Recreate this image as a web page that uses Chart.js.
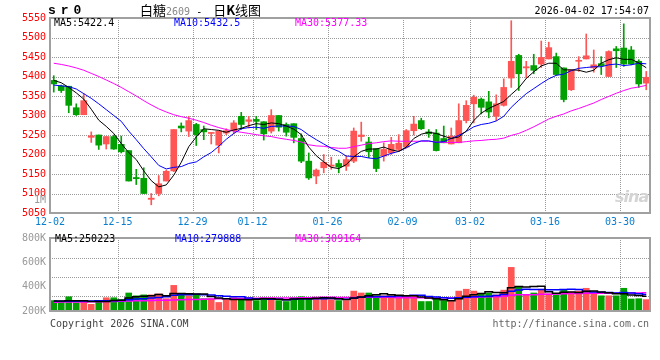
<!DOCTYPE html>
<html>
<head>
<meta charset="utf-8">
<title>白糖2609 - 日K线图</title>
<script src="https://cdn.jsdelivr.net/npm/chart.js@4/dist/chart.umd.min.js"></script>
<style>
  body { margin: 0; background: #fff; }
  #wrap { position: relative; width: 660px; height: 360px; overflow: hidden;
          font-family: "DejaVu Sans Mono", monospace; font-size: 10px; color: #000; }
  #wrap canvas { position: absolute; left: 0; }
  .txt { position: absolute; white-space: pre; line-height: 12px; }
</style>
</head>
<body>
<div id="wrap">
  <canvas id="kline" width="660" height="228" style="top:0"></canvas>
  <canvas id="vol" width="660" height="132" style="top:228px"></canvas>

  <div class="txt" style="left:48px;top:3px;font:bold 13px 'Liberation Mono',monospace;letter-spacing:5px">sr0</div>
  <div class="txt" style="left:140px;top:2px;font-size:13px;line-height:15px;font-family:'Noto Sans CJK SC',sans-serif">白糖<span style="font:10px 'DejaVu Sans Mono';color:#888">2609</span><span style="font:10px 'DejaVu Sans Mono'"> - </span><span style="margin-left:5px">日<b>K</b>线图</span></div>
  <div class="txt" style="right:11px;top:5px">2026-04-02 17:54:07</div>

  <div class="txt" style="left:54px;top:17px">MA5:5422.4</div>
  <div class="txt" style="left:174px;top:17px;color:#0000ff">MA10:5432.5</div>
  <div class="txt" style="left:295px;top:17px;color:#ff00ff">MA30:5377.33</div>
  <div class="txt" style="left:34px;top:194px;color:#999">1M</div>

  <div class="txt" style="left:55px;top:233px">MA5:250223</div>
  <div class="txt" style="left:175px;top:233px;color:#0000ff">MA10:279888</div>
  <div class="txt" style="left:295px;top:233px;color:#ff00ff">MA30:309164</div>

  <div class="txt" style="left:615px;top:187px;font:italic bold 16px 'DejaVu Sans',sans-serif;color:#d4d4d4;letter-spacing:-1px">sina</div>

  <div class="txt" style="left:50px;top:318px;color:#444">Copyright 2026 SINA.COM</div>
  <div class="txt" style="right:11px;top:318px;color:#666">http://finance.sina.com.cn</div>
</div>

<script>
// 交易日
const dates = ['12-02','12-03','12-04','12-05','12-08','12-09','12-10','12-11','12-12','12-15',
  '12-16','12-17','12-18','12-19','12-22','12-23','12-24','12-25','12-26','12-29',
  '12-30','12-31','01-05','01-06','01-07','01-08','01-09','01-12','01-13','01-14',
  '01-15','01-16','01-19','01-20','01-21','01-22','01-23','01-26','01-27','01-28',
  '01-29','01-30','02-02','02-03','02-04','02-05','02-06','02-09','02-10','02-11',
  '02-12','02-13','02-24','02-25','02-26','02-27','03-02','03-03','03-04','03-05',
  '03-06','03-09','03-10','03-11','03-12','03-13','03-16','03-17','03-18','03-19',
  '03-20','03-23','03-24','03-25','03-26','03-27','03-30','03-31','04-01','04-02'];
const tickDates = ['12-02','12-15','12-29','01-12','01-26','02-09','03-02','03-16','03-30'];

// K线 OHLC
const opens = [5390,5376,5375,5320,5302,5244,5250,5227,5246,5226,
  5210,5141,5139,5085,5100,5132,5158,5273,5260,5277,
  5264,5254,5224,5255,5261,5298,5285,5290,5284,5260,
  5300,5277,5279,5241,5183,5145,5166,5170,5177,5170,
  5183,5246,5232,5215,5196,5204,5213,5219,5261,5287,
  5258,5255,5241,5227,5230,5287,5330,5342,5335,5298,
  5326,5396,5454,5422,5428,5432,5445,5451,5422,5366,
  5439,5445,5422,5433,5400,5471,5473,5468,5439,5383];
const highs = [5402,5378,5375,5330,5356,5258,5250,5246,5250,5247,
  5210,5162,5166,5100,5146,5160,5264,5281,5298,5280,
  5273,5256,5260,5266,5287,5308,5298,5298,5284,5315,
  5300,5281,5279,5253,5204,5163,5200,5193,5186,5196,
  5268,5283,5244,5215,5230,5244,5251,5264,5298,5293,
  5264,5264,5273,5268,5330,5338,5352,5345,5362,5353,
  5394,5543,5457,5439,5457,5491,5488,5460,5422,5417,
  5451,5509,5468,5451,5466,5477,5535,5477,5443,5413];
const lows = [5360,5359,5307,5300,5302,5231,5213,5214,5213,5204,
  5132,5123,5100,5071,5094,5132,5156,5258,5246,5223,
  5238,5227,5204,5251,5253,5264,5268,5264,5237,5255,
  5260,5247,5230,5179,5136,5125,5153,5162,5153,5159,
  5179,5234,5192,5156,5183,5200,5209,5217,5250,5264,
  5244,5209,5230,5227,5230,5281,5281,5304,5294,5287,
  5324,5372,5364,5396,5407,5423,5445,5403,5335,5364,
  5413,5445,5411,5405,5400,5423,5426,5430,5372,5366];
const closes = [5381,5364,5326,5302,5338,5248,5224,5246,5214,5207,
  5132,5138,5100,5088,5125,5157,5264,5268,5287,5251,
  5258,5255,5260,5261,5281,5277,5289,5285,5253,5300,
  5270,5257,5244,5183,5140,5160,5180,5173,5168,5187,
  5260,5250,5207,5164,5213,5226,5229,5261,5278,5266,
  5253,5210,5230,5247,5287,5326,5347,5321,5309,5330,
  5372,5439,5407,5425,5416,5449,5474,5405,5341,5417,
  5441,5453,5430,5428,5464,5466,5432,5432,5381,5398];

// 均线
const ma5 = [5390,5384,5372,5358,5342,5316,5288,5272,5254,5228,
  5205,5187,5158,5133,5117,5122,5147,5180,5220,5245,
  5266,5264,5262,5257,5263,5267,5274,5279,5277,5281,
  5279,5273,5265,5251,5219,5197,5181,5167,5164,5174,
  5194,5208,5214,5214,5219,5212,5208,5219,5241,5252,
  5257,5254,5247,5241,5245,5260,5287,5306,5318,5327,
  5336,5354,5371,5395,5412,5427,5434,5434,5417,5417,
  5416,5411,5416,5434,5443,5448,5444,5444,5435,5422.4];
const ma10 = [5378,5376,5374,5368,5356,5344,5330,5315,5300,5285,
  5260,5238,5215,5194,5172,5163,5167,5169,5177,5181,
  5194,5205,5221,5239,5254,5266,5269,5270,5267,5272,
  5273,5273,5272,5264,5250,5238,5227,5216,5208,5196,
  5195,5195,5191,5189,5196,5203,5208,5217,5228,5235,
  5235,5231,5233,5241,5249,5259,5271,5277,5280,5286,
  5298,5321,5339,5356,5369,5382,5394,5403,5406,5415,
  5421,5423,5425,5425,5430,5432,5428,5430,5434,5432.5];
const ma30 = [5434,5431,5427,5422,5416,5408,5400,5391,5382,5372,
  5361,5350,5338,5327,5317,5309,5302,5297,5293,5288,
  5282,5275,5269,5264,5260,5257,5254,5251,5248,5246,
  5242,5239,5236,5232,5225,5222,5221,5218,5216,5216,
  5220,5224,5228,5230,5233,5235,5234,5234,5234,5234,
  5234,5232,5231,5231,5231,5233,5235,5236,5238,5239,
  5242,5249,5254,5262,5271,5281,5291,5298,5304,5312,
  5318,5325,5332,5341,5349,5357,5364,5370,5373,5377.33];

// 成交量
const volumes = [177000,150000,242000,140000,172000,113000,150000,225000,225000,193000,
  306000,258000,274000,274000,290000,209000,435000,274000,258000,274000,
  209000,209000,145000,193000,225000,209000,193000,177000,225000,225000,
  177000,161000,225000,242000,225000,225000,209000,193000,177000,177000,
  338000,306000,306000,258000,258000,258000,258000,258000,258000,161000,
  161000,209000,177000,161000,338000,370000,338000,290000,306000,274000,
  354000,741000,403000,274000,306000,370000,290000,274000,354000,322000,
  338000,386000,306000,258000,258000,258000,386000,204000,209000,193000];
const volMa5 = [170000,168000,172000,174000,176000,163000,163000,160000,177000,181000,
  220000,241000,251000,261000,280000,261000,296000,296000,293000,290000,
  290000,245000,219000,206000,196000,196000,193000,199000,206000,206000,
  199000,193000,203000,206000,206000,216000,225000,219000,206000,196000,
  219000,238000,261000,277000,293000,277000,268000,258000,258000,239000,
  219000,209000,193000,174000,209000,251000,277000,299000,328000,316000,
  312000,393000,416000,409000,416000,419000,329000,303000,319000,322000,
  316000,335000,341000,322000,309000,293000,293000,273000,263000,250223];
const volMa10 = [165000,165000,166000,167000,168000,170000,172000,174000,176000,179000,
  192000,202000,206000,219000,231000,240000,269000,274000,277000,285000,
  276000,271000,258000,250000,243000,243000,219000,209000,206000,201000,
  198000,193000,201000,206000,206000,208000,209000,211000,206000,201000,
  217000,232000,240000,241000,245000,248000,253000,259000,268000,266000,
  248000,239000,226000,216000,224000,235000,243000,246000,251000,262000,
  282000,335000,358000,369000,366000,366000,361000,359000,364000,369000,
  367000,332000,322000,320000,316000,304000,314000,307000,293000,279888];
const volMa30 = [150000,151000,152000,153000,155000,157000,159000,161000,163000,166000,
  169000,172000,175000,178000,181000,184000,188000,191000,194000,197000,
  200000,203000,206000,209000,212000,214000,216000,218000,220000,222000,
  222000,222000,222000,225000,227000,231000,233000,232000,230000,229000,
  231000,232000,233000,233000,232000,233000,227000,227000,227000,223000,
  221000,221000,223000,221000,225000,231000,235000,239000,242000,244000,
  249000,269000,275000,276000,278000,283000,286000,289000,295000,299000,
  299000,302000,302000,302000,302000,302000,306000,305000,305000,309164];
const volTicks = [200000, 400000, 600000, 800000];
const volGrid = [262000, 584000, 906000];
const volMax = 1240000;

Chart.defaults.font.family = "'DejaVu Sans Mono', monospace";
Chart.defaults.font.size = 10;

const up = '#ff5555', down = '#00a000';
const candleColors = closes.map((c, i) => c >= opens[i] ? up : down);
const gridIdx = tickDates.map(d => dates.indexOf(d));

// 点状网格
function drawDots(chart, yId) {
  const { ctx, chartArea: a } = chart;
  const xs = chart.scales.x, ys = chart.scales[yId];
  const half = (xs.getPixelForTick(1) - xs.getPixelForTick(0)) / 2;
  const l = Math.round(a.left), r = Math.round(a.right);
  const t = Math.round(a.top), b = Math.round(a.bottom);
  ctx.save();
  ctx.fillStyle = '#999999';
  gridIdx.forEach(i => {
    const x = Math.round(xs.getPixelForTick(i) - half);
    for (let y = t; y < b; y += 2) ctx.fillRect(x, y, 1, 1);
  });
  ys.ticks.forEach(tk => {
    const y = Math.round(ys.getPixelForValue(tk.value));
    for (let x = l; x < r; x += 2) ctx.fillRect(x, y, 1, 1);
  });
  ctx.restore();
}

function panelDeco(yId) {
  return {
    id: 'panelDeco_' + yId,
    beforeDatasetsDraw(chart) {
      drawDots(chart, yId);
    },
    afterDraw(chart) {
      const { ctx, chartArea: a } = chart;
      ctx.save();
      ctx.strokeStyle = '#a0a0a0';
      ctx.lineWidth = 2;
      ctx.strokeRect(a.left, a.top, a.right - a.left, a.bottom - a.top);
      ctx.restore();
    }
  };
}

function xScale(showLabels) {
  return {
    offset: true,
    grid: { display: false, drawTicks: false },
    border: { display: false },
    ticks: {
      display: showLabels, autoSkip: false, maxRotation: 0, minRotation: 0,
      padding: 3, labelOffset: -3.75, color: '#0a7fd0',
      callback: (v, i) => gridIdx.includes(i) ? dates[i] : ''
    },
    afterFit: s => { s.height = showLabels ? 15 : 49; }
  };
}

const baseOpts = {
  responsive: false,
  animation: false,
  devicePixelRatio: 1,
  plugins: { legend: { display: false }, tooltip: { enabled: false } }
};

function maLine(data, color, width, axis, stepped) {
  return { type: 'line', data: data, borderColor: color, borderWidth: width,
           pointRadius: 0, stepped: stepped, yAxisID: axis, order: 0 };
}

// 日K
new Chart(document.getElementById('kline'), {
  type: 'bar',
  data: {
    labels: dates,
    datasets: [
      maLine(ma5, '#000000', 1, 'y', false),
      maLine(ma10, '#0000ff', 1, 'y', false),
      maLine(ma30, '#ff00ff', 1, 'y', false),
      { data: opens.map((o, i) => [o, closes[i]]), backgroundColor: candleColors,
        barThickness: 6, minBarLength: 1, grouped: false, order: 1 },
      { data: lows.map((l, i) => [l, highs[i]]), backgroundColor: candleColors,
        barThickness: 1, grouped: false, order: 2 }
    ]
  },
  options: Object.assign({}, baseOpts, {
    layout: { padding: { top: 18, right: 10, left: 0, bottom: 0 } },
    scales: {
      x: xScale(true),
      y: {
        min: 5050, max: 5550,
        ticks: { stepSize: 50, color: '#ff0000', padding: 4, callback: v => String(v) },
        grid: { display: false, drawTicks: false },
        border: { display: false },
        afterFit: s => { s.width = 50; }
      }
    }
  }),
  plugins: [panelDeco('y')]
});

// 成交量
new Chart(document.getElementById('vol'), {
  type: 'bar',
  data: {
    labels: dates,
    datasets: [
      maLine(volMa5, '#000000', 1.5, 'yv', 'middle'),
      maLine(volMa10, '#0000ff', 1.5, 'yv', 'middle'),
      maLine(volMa30, '#ff00ff', 1.5, 'yv', 'middle'),
      { data: volumes, backgroundColor: candleColors, barThickness: 6,
        yAxisID: 'yv', order: 1 }
    ]
  },
  options: Object.assign({}, baseOpts, {
    layout: { padding: { top: 6, right: 10, left: 0, bottom: 0 } },
    scales: {
      x: xScale(false),
      yl: {
        position: 'left', min: 200000, max: 800000,
        afterBuildTicks: s => { s.ticks = volTicks.map(v => ({ value: v })); },
        ticks: { color: '#999', padding: 4, callback: v => (v / 1000) + 'K' },
        grid: { display: false, drawTicks: false },
        border: { display: false },
        afterFit: s => { s.width = 50; }
      },
      yv: {
        position: 'right', min: 0, max: volMax,
        afterBuildTicks: s => { s.ticks = volGrid.map(v => ({ value: v })); },
        ticks: { display: false },
        grid: { display: false, drawTicks: false },
        border: { display: false },
        afterFit: s => { s.width = 0; }
      }
    }
  }),
  plugins: [panelDeco('yv')]
});
</script>
</body>
</html>
